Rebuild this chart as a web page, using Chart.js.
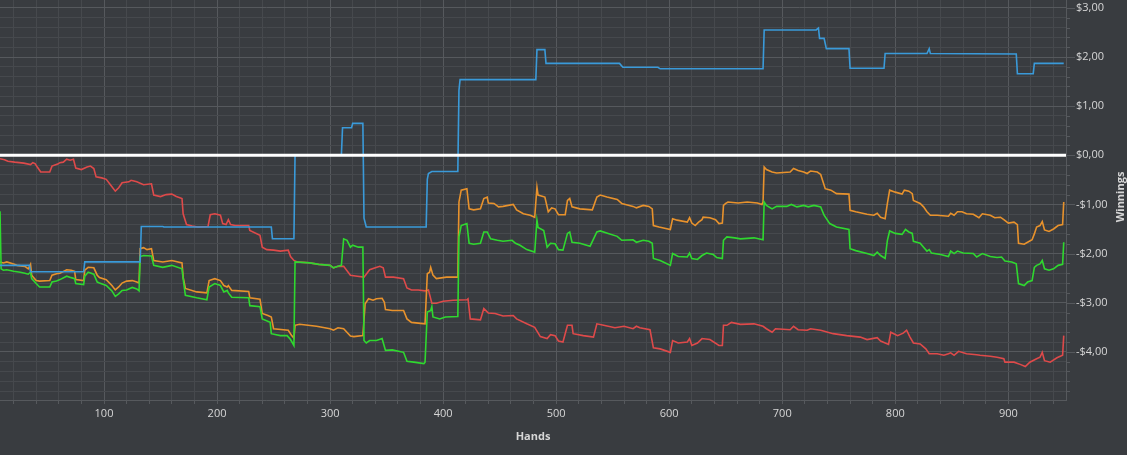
<!DOCTYPE html>
<html>
<head>
<meta charset="utf-8">
<script src="https://cdn.jsdelivr.net/npm/chart.js@4.4.1/dist/chart.umd.min.js"></script>
<style>
  html, body { margin: 0; padding: 0; background: #393c40; }
  #wrap { width: 1127px; height: 455px; }
</style>
</head>
<body>
<div id="wrap"><canvas id="winningsChart"></canvas></div>
<script>
// [hand, winnings in $]
const blueLine = [[8,-2.24],[34,-2.24],[35,-2.37],[82,-2.37],[83,-2.17],[132,-2.17],[133,-1.45],[152,-1.45],[153,-1.46],[248,-1.46],[249,-1.70],[268,-1.70],[269,0],[310,0],[311,0.56],[319,0.56],[320,0.65],[329,0.65],[330,-1.28],[332,-1.46],[385,-1.46],[386,-0.49],[387,-0.37],[390,-0.33],[413,-0.33],[414,1.32],[415,1.54],[482,1.54],[483,2.15],[490,2.15],[491,1.87],[556,1.87],[559,1.79],[590,1.79],[592,1.76],[683,1.76],[684,2.55],[730,2.55],[732,2.59],[733,2.38],[737,2.38],[739,2.17],[759,2.17],[760,1.77],[790,1.77],[791,2.07],[828,2.07],[830,2.17],[831,2.07],[907,2.06],[908,1.66],[922,1.66],[923,1.87],[949,1.87]];

const greenLine = [[8,-1.14],[9,-2.31],[11,-2.34],[14,-2.33],[20,-2.36],[26,-2.38],[30,-2.40],[33,-2.42],[35,-2.38],[36,-2.51],[40,-2.61],[43,-2.68],[52,-2.68],[54,-2.58],[58,-2.56],[61,-2.53],[67,-2.46],[71,-2.49],[74,-2.51],[75,-2.61],[82,-2.63],[83,-2.46],[86,-2.38],[91,-2.42],[94,-2.58],[96,-2.60],[102,-2.65],[107,-2.76],[110,-2.87],[113,-2.82],[116,-2.75],[120,-2.74],[125,-2.69],[129,-2.72],[131,-2.76],[132,-2.06],[135,-2.04],[142,-2.05],[144,-2.24],[152,-2.28],[160,-2.24],[169,-2.31],[170,-2.51],[172,-2.85],[182,-2.90],[191,-2.94],[193,-2.68],[198,-2.61],[203,-2.65],[206,-2.78],[209,-2.75],[210,-2.80],[213,-2.89],[228,-2.90],[229,-3.06],[238,-3.08],[240,-3.33],[247,-3.40],[248,-3.63],[256,-3.67],[262,-3.67],[265,-3.75],[268,-3.87],[269,-2.17],[282,-2.19],[290,-2.22],[300,-2.24],[303,-2.29],[307,-2.26],[310,-2.24],[312,-1.70],[315,-1.73],[318,-1.87],[320,-1.83],[325,-1.87],[329,-1.87],[330,-3.77],[332,-3.82],[335,-3.77],[341,-3.77],[346,-3.73],[349,-3.97],[355,-3.96],[365,-4.01],[368,-4.19],[374,-4.21],[383,-4.24],[384,-4.21],[386,-3.19],[389,-3.16],[390,-3.08],[391,-3.29],[397,-3.33],[402,-3.29],[413,-3.28],[414,-1.66],[416,-1.43],[421,-1.39],[423,-1.79],[427,-1.81],[433,-1.79],[436,-1.56],[439,-1.56],[442,-1.70],[448,-1.73],[453,-1.75],[461,-1.73],[464,-1.79],[468,-1.83],[474,-1.92],[481,-1.97],[483,-1.32],[484,-1.47],[489,-1.53],[492,-1.87],[495,-1.79],[499,-1.80],[502,-1.92],[506,-1.93],[510,-1.59],[512,-1.56],[514,-1.77],[521,-1.79],[530,-1.85],[536,-1.56],[539,-1.54],[546,-1.59],[554,-1.65],[558,-1.73],[568,-1.72],[571,-1.77],[577,-1.73],[582,-1.75],[585,-1.79],[586,-2.10],[592,-2.14],[601,-2.24],[603,-2.00],[608,-2.06],[616,-2.07],[618,-1.99],[620,-2.10],[625,-2.12],[629,-2.04],[633,-1.99],[639,-2.02],[642,-2.08],[647,-2.10],[648,-1.73],[651,-1.66],[658,-1.68],[663,-1.70],[675,-1.68],[683,-1.72],[684,-0.95],[686,-1.02],[691,-1.09],[695,-1.04],[704,-1.04],[708,-1.00],[713,-1.05],[719,-1.02],[723,-1.05],[728,-1.02],[734,-1.05],[737,-1.22],[742,-1.39],[748,-1.46],[759,-1.51],[760,-1.90],[765,-1.94],[775,-2.00],[781,-2.04],[784,-1.97],[787,-2.04],[791,-2.10],[793,-1.73],[795,-1.54],[800,-1.59],[806,-1.61],[809,-1.51],[812,-1.56],[815,-1.59],[816,-1.75],[822,-1.79],[825,-1.87],[828,-1.95],[830,-1.92],[832,-1.99],[840,-2.02],[847,-2.06],[849,-1.95],[852,-2.00],[855,-1.95],[860,-1.99],[869,-2.00],[872,-2.07],[877,-2.00],[884,-2.06],[890,-2.08],[894,-2.07],[897,-2.15],[903,-2.17],[907,-2.21],[909,-2.61],[914,-2.65],[917,-2.58],[921,-2.55],[923,-2.28],[925,-2.24],[928,-2.21],[930,-2.14],[932,-2.31],[936,-2.34],[940,-2.31],[944,-2.24],[948,-2.22],[949,-1.77]];

const orangeLine = [[8,-2.17],[11,-2.19],[14,-2.17],[20,-2.21],[23,-2.24],[30,-2.26],[33,-2.31],[35,-2.22],[36,-2.44],[40,-2.55],[43,-2.56],[52,-2.55],[54,-2.44],[58,-2.41],[61,-2.40],[67,-2.33],[71,-2.34],[74,-2.36],[75,-2.53],[82,-2.55],[83,-2.34],[86,-2.28],[91,-2.29],[94,-2.44],[96,-2.49],[102,-2.53],[107,-2.65],[110,-2.74],[113,-2.68],[116,-2.60],[120,-2.56],[125,-2.55],[129,-2.58],[131,-2.60],[132,-1.90],[135,-1.88],[138,-1.92],[142,-1.90],[144,-2.14],[152,-2.17],[160,-2.14],[169,-2.19],[170,-2.48],[172,-2.71],[182,-2.78],[191,-2.80],[193,-2.55],[198,-2.51],[203,-2.55],[206,-2.65],[209,-2.68],[210,-2.65],[213,-2.75],[228,-2.77],[229,-2.90],[238,-2.93],[240,-3.22],[245,-3.26],[248,-3.29],[250,-3.53],[263,-3.56],[266,-3.67],[268,-3.72],[269,-3.46],[273,-3.44],[288,-3.48],[300,-3.53],[303,-3.56],[307,-3.51],[312,-3.53],[318,-3.68],[321,-3.69],[329,-3.67],[331,-3.02],[334,-2.92],[338,-2.95],[341,-2.92],[346,-2.91],[348,-2.99],[349,-3.14],[355,-3.16],[365,-3.16],[368,-3.33],[372,-3.40],[380,-3.42],[384,-3.43],[386,-2.41],[388,-2.38],[389,-2.28],[391,-2.44],[394,-2.51],[403,-2.48],[413,-2.48],[414,-0.95],[416,-0.71],[421,-0.68],[423,-1.09],[427,-1.11],[433,-1.09],[436,-0.88],[439,-0.85],[440,-0.97],[445,-0.98],[449,-1.05],[453,-1.04],[462,-1.00],[465,-1.11],[471,-1.19],[477,-1.22],[481,-1.26],[483,-0.65],[484,-0.81],[490,-0.85],[493,-1.15],[496,-1.07],[499,-1.09],[502,-1.21],[508,-1.21],[510,-0.92],[512,-0.88],[514,-1.05],[521,-1.09],[532,-1.11],[536,-0.85],[539,-0.81],[545,-0.85],[554,-0.90],[558,-0.98],[568,-1.04],[571,-1.07],[577,-1.02],[582,-1.04],[585,-1.09],[586,-1.43],[591,-1.46],[601,-1.51],[603,-1.29],[607,-1.32],[616,-1.36],[618,-1.27],[620,-1.38],[623,-1.43],[626,-1.36],[629,-1.31],[630,-1.26],[636,-1.27],[641,-1.31],[644,-1.39],[647,-1.38],[648,-1.02],[650,-0.98],[652,-0.95],[661,-0.97],[669,-0.95],[678,-0.97],[682,-1.00],[683,-0.95],[684,-0.24],[686,-0.29],[691,-0.34],[695,-0.36],[707,-0.34],[710,-0.27],[714,-0.31],[719,-0.34],[722,-0.37],[725,-0.32],[731,-0.34],[734,-0.39],[738,-0.68],[743,-0.71],[748,-0.78],[759,-0.79],[760,-1.12],[765,-1.15],[775,-1.20],[781,-1.22],[784,-1.18],[787,-1.26],[791,-1.29],[793,-0.98],[795,-0.71],[800,-0.75],[806,-0.79],[808,-0.71],[812,-0.73],[815,-0.78],[816,-0.92],[822,-0.98],[825,-1.05],[828,-1.15],[831,-1.22],[837,-1.22],[847,-1.24],[849,-1.18],[852,-1.22],[855,-1.15],[859,-1.15],[863,-1.19],[869,-1.20],[874,-1.27],[877,-1.19],[884,-1.22],[888,-1.27],[893,-1.26],[896,-1.31],[900,-1.38],[905,-1.36],[908,-1.41],[909,-1.79],[914,-1.81],[917,-1.77],[921,-1.72],[923,-1.60],[925,-1.46],[928,-1.43],[930,-1.35],[932,-1.52],[936,-1.55],[940,-1.50],[944,-1.43],[948,-1.41],[949,-0.95]];

const redLine = [[8,-0.07],[12,-0.09],[15,-0.12],[21,-0.14],[29,-0.16],[35,-0.19],[37,-0.15],[39,-0.17],[41,-0.24],[44,-0.34],[52,-0.34],[54,-0.22],[59,-0.18],[61,-0.15],[64,-0.14],[67,-0.08],[70,-0.10],[73,-0.08],[75,-0.26],[80,-0.29],[85,-0.24],[88,-0.22],[91,-0.27],[93,-0.44],[98,-0.46],[102,-0.49],[106,-0.61],[110,-0.73],[113,-0.66],[116,-0.56],[122,-0.54],[124,-0.51],[129,-0.54],[135,-0.60],[142,-0.58],[144,-0.81],[150,-0.84],[155,-0.80],[160,-0.79],[164,-0.84],[169,-0.88],[170,-1.19],[173,-1.41],[178,-1.44],[183,-1.46],[192,-1.45],[194,-1.21],[198,-1.19],[203,-1.22],[205,-1.39],[208,-1.41],[210,-1.31],[212,-1.41],[216,-1.43],[228,-1.43],[229,-1.53],[238,-1.63],[240,-1.87],[244,-1.92],[250,-1.93],[256,-1.95],[263,-1.93],[265,-2.06],[268,-2.14],[271,-2.17],[282,-2.19],[290,-2.22],[300,-2.24],[303,-2.29],[307,-2.26],[312,-2.26],[318,-2.44],[324,-2.46],[330,-2.48],[332,-2.42],[335,-2.33],[340,-2.29],[344,-2.26],[347,-2.29],[349,-2.48],[356,-2.48],[365,-2.51],[368,-2.70],[372,-2.74],[378,-2.74],[384,-2.76],[387,-2.74],[390,-3.01],[394,-3.01],[400,-2.97],[409,-2.95],[421,-2.94],[422,-2.92],[424,-3.33],[433,-3.35],[436,-3.12],[440,-3.21],[446,-3.22],[453,-3.27],[462,-3.26],[465,-3.33],[474,-3.43],[481,-3.50],[486,-3.69],[492,-3.73],[495,-3.65],[499,-3.67],[502,-3.78],[506,-3.80],[510,-3.46],[514,-3.46],[515,-3.63],[524,-3.67],[533,-3.70],[536,-3.43],[542,-3.46],[552,-3.51],[560,-3.48],[568,-3.53],[571,-3.48],[574,-3.51],[583,-3.55],[586,-3.92],[592,-3.94],[601,-4.01],[603,-3.77],[608,-3.82],[616,-3.80],[618,-3.73],[620,-3.87],[625,-3.82],[629,-3.73],[636,-3.75],[644,-3.87],[647,-3.87],[648,-3.46],[651,-3.46],[655,-3.40],[663,-3.44],[675,-3.43],[683,-3.48],[686,-3.53],[691,-3.60],[694,-3.53],[707,-3.55],[710,-3.48],[714,-3.55],[722,-3.56],[725,-3.53],[734,-3.56],[745,-3.63],[757,-3.67],[769,-3.70],[775,-3.75],[784,-3.71],[787,-3.78],[794,-3.85],[796,-3.60],[802,-3.67],[807,-3.62],[810,-3.56],[813,-3.70],[816,-3.82],[822,-3.84],[827,-3.94],[830,-4.04],[837,-4.04],[843,-4.07],[847,-4.04],[849,-4.02],[852,-4.07],[856,-3.99],[863,-4.04],[872,-4.06],[875,-4.07],[884,-4.09],[890,-4.11],[896,-4.14],[897,-4.21],[905,-4.21],[911,-4.26],[915,-4.30],[919,-4.21],[925,-4.14],[928,-4.11],[930,-4.01],[932,-4.18],[937,-4.21],[943,-4.12],[948,-4.07],[949,-3.67]];

const handTicks = [];
for (let h = 20; h <= 940; h += 20) handTicks.push(h);
const winTicks = [];
for (let i = -24; i <= 15; i++) winTicks.push(i / 5);

const BG = "#393c40";
const GRID_MAJOR = "#56595d";
const GRID_MINOR = "#46494d";
const TEXT = "#d6d6d6";
const FONT = "'Open Sans', 'Noto Sans', sans-serif";

const isMajorWin = v => Math.round(v * 5) % 5 === 0;
const money = v => {
  const s = "$" + Math.abs(v).toFixed(2).replace(".", ",");
  return v < -0.001 ? "-" + s : s;
};
const pts = arr => arr.map(p => ({ x: p[0], y: p[1] }));

const chartDecor = {
  id: "chartDecor",
  beforeDraw(chart) {
    const c = chart.ctx;
    c.save();
    c.fillStyle = BG;
    c.fillRect(0, 0, chart.width, chart.height);
    c.restore();
  },
  afterDatasetsDraw(chart) {
    const c = chart.ctx, a = chart.chartArea;
    const y0 = chart.scales.y.getPixelForValue(0);
    c.save();
    c.strokeStyle = "#ffffff";
    c.lineWidth = 3;
    c.beginPath();
    c.moveTo(a.left, y0);
    c.lineTo(a.right, y0);
    c.stroke();
    c.restore();
  },
  afterDraw(chart) {
    const c = chart.ctx, a = chart.chartArea, ys = chart.scales.y;
    c.save();
    c.strokeStyle = GRID_MAJOR;
    c.lineWidth = 1;
    winTicks.forEach(v => {
      const y = Math.round(ys.getPixelForValue(v)) + 0.5;
      const len = isMajorWin(v) ? 9 : 4;
      c.beginPath();
      c.moveTo(a.right, y);
      c.lineTo(a.right + len, y);
      c.stroke();
    });
    c.fillStyle = TEXT;
    c.font = "bold 11px " + FONT;
    c.textAlign = "center";
    c.textBaseline = "middle";
    c.fillText("Hands", (a.left + a.right) / 2, 437);
    c.translate(1121, 197);
    c.rotate(-Math.PI / 2);
    c.fillText("Winnings", 0, 0);
    c.restore();
  }
};

const line = (data, color) => ({
  data: pts(data),
  borderColor: color,
  borderWidth: 1.6,
  pointRadius: 0,
  tension: 0,
  fill: false
});

new Chart(document.getElementById("winningsChart"), {
  type: "line",
  data: {
    datasets: [
      line(blueLine, "#3a9ad9"),
      line(greenLine, "#2fd82f"),
      line(orangeLine, "#e8922c"),
      line(redLine, "#de4a4a")
    ]
  },
  options: {
    responsive: true,
    maintainAspectRatio: false,
    animation: false,
    layout: { padding: 0 },
    plugins: { legend: { display: false }, tooltip: { enabled: false } },
    scales: {
      x: {
        type: "linear",
        min: 8,
        max: 951,
        afterBuildTicks: s => { s.ticks = handTicks.map(v => ({ value: v })); },
        afterFit: s => { s.height = 55; s.paddingLeft = 0; s.paddingRight = 0; },
        grid: {
          color: ctx => (ctx.tick && ctx.tick.value % 100 === 0 ? GRID_MAJOR : GRID_MINOR),
          drawTicks: true,
          tickLength: 4,
          tickColor: GRID_MAJOR
        },
        border: { color: GRID_MAJOR },
        ticks: {
          color: TEXT,
          font: { family: FONT, size: 11 },
          padding: 3,
          maxRotation: 0,
          autoSkip: false,
          callback: v => (v % 100 === 0 ? String(v) : "")
        }
      },
      y: {
        position: "right",
        min: -4.98,
        max: 3.16,
        afterBuildTicks: s => { s.ticks = winTicks.map(v => ({ value: v })); },
        afterFit: s => { s.width = 61; s.paddingTop = 0; s.paddingBottom = 0; },
        grid: {
          color: ctx => (ctx.tick && isMajorWin(ctx.tick.value) ? GRID_MAJOR : GRID_MINOR),
          drawTicks: false
        },
        border: { color: GRID_MAJOR },
        ticks: {
          color: TEXT,
          font: { family: FONT, size: 11 },
          padding: 10,
          autoSkip: false,
          callback: v => (isMajorWin(v) ? money(v) : "")
        }
      }
    }
  },
  plugins: [chartDecor]
});
</script>
</body>
</html>
